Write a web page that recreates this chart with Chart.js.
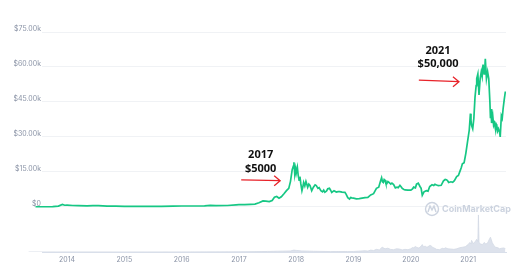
<!DOCTYPE html>
<html>
<head>
<meta charset="utf-8">
<script src="https://cdn.jsdelivr.net/npm/chart.js@4.4.1/dist/chart.umd.min.js"></script>
<style>
  html, body { margin: 0; padding: 0; background: #fff; }
  #wrap { width: 526px; height: 270px; }
</style>
</head>
<body>
<div id="wrap"><canvas id="btc" width="526" height="270"></canvas></div>
<script>
// ── price (USD) ──
const priceDates = [
  2013.33, 2013.45, 2013.6, 2013.75, 2013.85, 2013.92, 2013.96, 2014.0, 2014.1, 2014.2,
  2014.35, 2014.45, 2014.55, 2014.7, 2014.85, 2015.0, 2015.1, 2015.3, 2015.5, 2015.65,
  2015.85, 2016.0, 2016.2, 2016.4, 2016.5, 2016.6, 2016.8, 2016.95, 2017.0, 2017.1,
  2017.2, 2017.28, 2017.35, 2017.42, 2017.47, 2017.53, 2017.58, 2017.62, 2017.66, 2017.7,
  2017.74, 2017.79, 2017.83, 2017.87, 2017.9, 2017.93, 2017.95, 2017.96, 2017.975, 2017.99,
  2018.0, 2018.02, 2018.035, 2018.05, 2018.065, 2018.08, 2018.1, 2018.115, 2018.13, 2018.15,
  2018.17, 2018.185, 2018.2, 2018.22, 2018.24, 2018.255, 2018.27, 2018.3, 2018.33, 2018.35,
  2018.38, 2018.4, 2018.43, 2018.46, 2018.48, 2018.5, 2018.53, 2018.55, 2018.58, 2018.6,
  2018.62, 2018.66, 2018.7, 2018.73, 2018.76, 2018.8, 2018.85, 2018.87, 2018.9, 2018.93,
  2018.95, 2018.97, 2019.0, 2019.05, 2019.1, 2019.15, 2019.2, 2019.25, 2019.3, 2019.35,
  2019.4, 2019.44, 2019.47, 2019.49, 2019.505, 2019.52, 2019.535, 2019.55, 2019.565, 2019.58,
  2019.6, 2019.62, 2019.65, 2019.67, 2019.7, 2019.73, 2019.76, 2019.78, 2019.81, 2019.83,
  2019.85, 2019.88, 2019.9, 2019.95, 2020.0, 2020.03, 2020.05, 2020.08, 2020.1, 2020.13,
  2020.16, 2020.18, 2020.2, 2020.23, 2020.27, 2020.3, 2020.33, 2020.37, 2020.4, 2020.42,
  2020.45, 2020.48, 2020.53, 2020.57, 2020.6, 2020.62, 2020.64, 2020.66, 2020.7, 2020.73,
  2020.76, 2020.8, 2020.83, 2020.86, 2020.88, 2020.9, 2020.93, 2020.96, 2020.99, 2021.02,
  2021.04, 2021.05, 2021.06, 2021.08, 2021.1, 2021.12, 2021.14, 2021.15, 2021.17, 2021.19,
  2021.21, 2021.23, 2021.245, 2021.26, 2021.28, 2021.29, 2021.3, 2021.32, 2021.34, 2021.36,
  2021.38, 2021.39, 2021.4, 2021.41, 2021.43, 2021.445, 2021.46, 2021.48, 2021.49, 2021.5,
  2021.515, 2021.53, 2021.55, 2021.56, 2021.58, 2021.595, 2021.61, 2021.63, 2021.65
];
const prices = [
  130, 110, 100, 130, 400, 1100, 750, 800, 650, 560,
  450, 620, 600, 400, 350, 280, 230, 240, 270, 230,
  380, 430, 420, 520, 680, 580, 640, 900, 1000, 980,
  1150, 1250, 1800, 2600, 2500, 2300, 2800, 4200, 4500, 3800,
  4400, 5800, 7000, 8000, 11000, 16000, 17500, 19200, 14000, 16500,
  14500, 17000, 13500, 11500, 13000, 10000, 7000, 8500, 10500, 9000,
  11000, 9800, 8500, 9800, 9200, 8100, 7000, 8500, 9500, 9200,
  8000, 8300, 7000, 6500, 7200, 6300, 6900, 7800, 8000, 7200,
  6200, 7000, 6400, 6600, 6600, 6400, 6300, 5500, 4000, 3400,
  4100, 3900, 3800, 3500, 3600, 3800, 4000, 4100, 5200, 5700,
  8000, 8500, 11000, 12500, 10800, 10500, 11800, 11500, 10100, 10000,
  10900, 10500, 9800, 10200, 9600, 8200, 8500, 8300, 9300, 8700,
  8000, 7500, 7300, 7200, 7200, 7800, 8500, 8200, 9800, 10200,
  8800, 8000, 5000, 6500, 7000, 6800, 8800, 9500, 9200, 9700,
  9400, 9200, 9300, 11200, 11800, 11700, 11300, 10500, 10800, 10600,
  11300, 13000, 13500, 15500, 16800, 18500, 19000, 23000, 28000, 33000,
  40000, 37000, 35000, 33500, 38000, 47000, 52000, 55000, 57000, 48000,
  55000, 58000, 56000, 61000, 57000, 59000, 63500, 55000, 58000, 55000,
  45000, 38000, 42000, 36000, 39000, 35000, 36000, 33000, 35500, 35000,
  32500, 33500, 32000, 30000, 39000, 38000, 42000, 46000, 49500
];

// ── volume (USD bn) ──
const volDates = [
  2013.33, 2014.0, 2015.0, 2016.0, 2017.0, 2017.5, 2017.9, 2017.96, 2018.0, 2018.1,
  2018.3, 2018.6, 2018.9, 2019.0, 2019.2, 2019.25, 2019.3, 2019.35, 2019.4, 2019.45,
  2019.5, 2019.55, 2019.6, 2019.65, 2019.7, 2019.75, 2019.8, 2019.85, 2019.9, 2019.95,
  2020.0, 2020.03, 2020.05, 2020.08, 2020.1, 2020.13, 2020.15, 2020.18, 2020.2, 2020.22,
  2020.25, 2020.28, 2020.3, 2020.33, 2020.35, 2020.38, 2020.4, 2020.45, 2020.5, 2020.55,
  2020.58, 2020.6, 2020.65, 2020.7, 2020.75, 2020.8, 2020.85, 2020.9, 2020.95, 2021.0,
  2021.03, 2021.05, 2021.06, 2021.09, 2021.12, 2021.15, 2021.17, 2021.18, 2021.19, 2021.22,
  2021.25, 2021.28, 2021.31, 2021.34, 2021.37, 2021.39, 2021.42, 2021.45, 2021.48, 2021.52,
  2021.55, 2021.58, 2021.62, 2021.65
];
const volumes = [
  0.1, 0.5, 0.3, 0.8, 2, 5, 10, 18, 15, 10,
  7, 4, 5, 5, 12, 9, 18, 14, 25, 20,
  45, 30, 36, 24, 22, 30, 28, 20, 25, 22,
  30, 42, 40, 52, 45, 38, 42, 55, 70, 50,
  55, 45, 50, 62, 60, 45, 40, 25, 22, 35,
  30, 40, 30, 28, 25, 30, 40, 45, 50, 70,
  90, 75, 110, 80, 95, 120, 100, 350, 90, 75,
  70, 90, 75, 85, 120, 140, 90, 60, 45, 40,
  30, 35, 38, 32
];

// ── axes ──
const yearTicks = [2014, 2015, 2016, 2017, 2018, 2019, 2020, 2021];
const priceTicks = [0, 15000, 30000, 45000, 60000, 75000];

// ── notes ──
const notes = [
  { lines: ['2017', '$5000'], at: [2017.38, 22300, 16300], arrow: [2017.04, 11600, 2017.72, 11300] },
  { lines: ['2021', '$50,000'], at: [2020.475, 67000, 61200], arrow: [2020.14, 54400, 2020.84, 53700] }
];

const GREEN = '#16c784';
const LABEL = '#8a93a6';

const notesPlugin = {
  id: 'notes',
  afterDatasetsDraw(chart) {
    const { ctx, scales: { x, y }, chartArea } = chart;
    ctx.save();
    notes.forEach(n => {
      ctx.fillStyle = '#111';
      ctx.font = 'bold 11px "Open Sans"';
      ctx.textAlign = 'center';
      ctx.textBaseline = 'middle';
      ctx.fillText(n.lines[0], x.getPixelForValue(n.at[0]), y.getPixelForValue(n.at[1]));
      ctx.fillText(n.lines[1], x.getPixelForValue(n.at[0]), y.getPixelForValue(n.at[2]));

      const x1 = x.getPixelForValue(n.arrow[0]), y1 = y.getPixelForValue(n.arrow[1]);
      const x2 = x.getPixelForValue(n.arrow[2]), y2 = y.getPixelForValue(n.arrow[3]);
      ctx.strokeStyle = '#e8232a';
      ctx.lineWidth = 1.3;
      ctx.beginPath();
      ctx.moveTo(x1, y1);
      ctx.lineTo(x2, y2);
      ctx.moveTo(x2 - 6, y2 - 5);
      ctx.lineTo(x2, y2);
      ctx.lineTo(x2 - 6, y2 + 5);
      ctx.stroke();
    });

    // watermark
    const cx = chartArea.right - 74, cy = y.getPixelForValue(0) + 2;
    ctx.strokeStyle = '#ccd3df';
    ctx.lineWidth = 1.4;
    ctx.beginPath();
    ctx.arc(cx, cy, 6.5, 0, Math.PI * 2);
    ctx.stroke();
    ctx.beginPath();
    ctx.moveTo(cx - 4, cy + 3);
    ctx.lineTo(cx - 2, cy - 3);
    ctx.lineTo(cx, cy + 1);
    ctx.lineTo(cx + 2, cy - 3);
    ctx.lineTo(cx + 4, cy + 3);
    ctx.stroke();
    ctx.fillStyle = '#ccd3df';
    ctx.font = 'bold 9px Inter';
    ctx.textAlign = 'left';
    ctx.textBaseline = 'middle';
    ctx.fillText('CoinMarketCap', cx + 10, cy + 0.5);
    ctx.restore();
  }
};

new Chart(document.getElementById('btc'), {
  type: 'line',
  data: {
    datasets: [
      {
        label: 'Price',
        data: priceDates.map((d, i) => ({ x: d, y: prices[i] })),
        borderColor: GREEN,
        borderWidth: 1.7,
        pointRadius: 0,
        tension: 0,
        yAxisID: 'y',
        order: 1,
        clip: { left: 14, right: 0, top: 5, bottom: 0 }
      },
      {
        label: 'Volume',
        data: volDates.map((d, i) => ({ x: d, y: volumes[i] })),
        borderColor: '#d3d9e5',
        backgroundColor: '#dde2ec',
        borderWidth: 0.8,
        pointRadius: 0,
        fill: 'origin',
        tension: 0,
        yAxisID: 'yv',
        order: 2,
        clip: { left: 14, right: 0, top: 0, bottom: 0 }
      }
    ]
  },
  options: {
    responsive: false,
    animation: false,
    devicePixelRatio: 1,
    layout: { padding: { top: 32, right: 20, left: 0, bottom: 0 } },
    plugins: { legend: { display: false }, tooltip: { enabled: false } },
    scales: {
      x: {
        type: 'linear',
        min: 2013.5637,
        max: 2021.661,
        afterBuildTicks: s => { s.ticks = yearTicks.map(v => ({ value: v })); },
        afterFit: s => { s.height = 18; },
        grid: { drawOnChartArea: false, drawTicks: false },
        border: { color: '#d9dfea', width: 1 },
        ticks: {
          color: LABEL,
          font: { family: 'Inter', size: 7 },
          padding: 4,
          maxRotation: 0,
          callback: v => String(v)
        }
      },
      y: {
        min: -19286,
        max: 75000,
        afterBuildTicks: s => { s.ticks = priceTicks.map(v => ({ value: v })); },
        afterFit: s => { s.width = 42; },
        grid: { color: '#f0f2f5', drawTicks: false, lineWidth: 1 },
        border: { display: false },
        ticks: {
          color: LABEL,
          font: { family: 'Inter', size: 7 },
          padding: 1,
          labelOffset: -3,
          callback: v => v === 0 ? '$0' : '$' + (v / 1000).toFixed(2) + 'k'
        }
      },
      yv: { display: false, min: 0, max: 2080 }
    }
  },
  plugins: [notesPlugin]
});
</script>
</body>
</html>
